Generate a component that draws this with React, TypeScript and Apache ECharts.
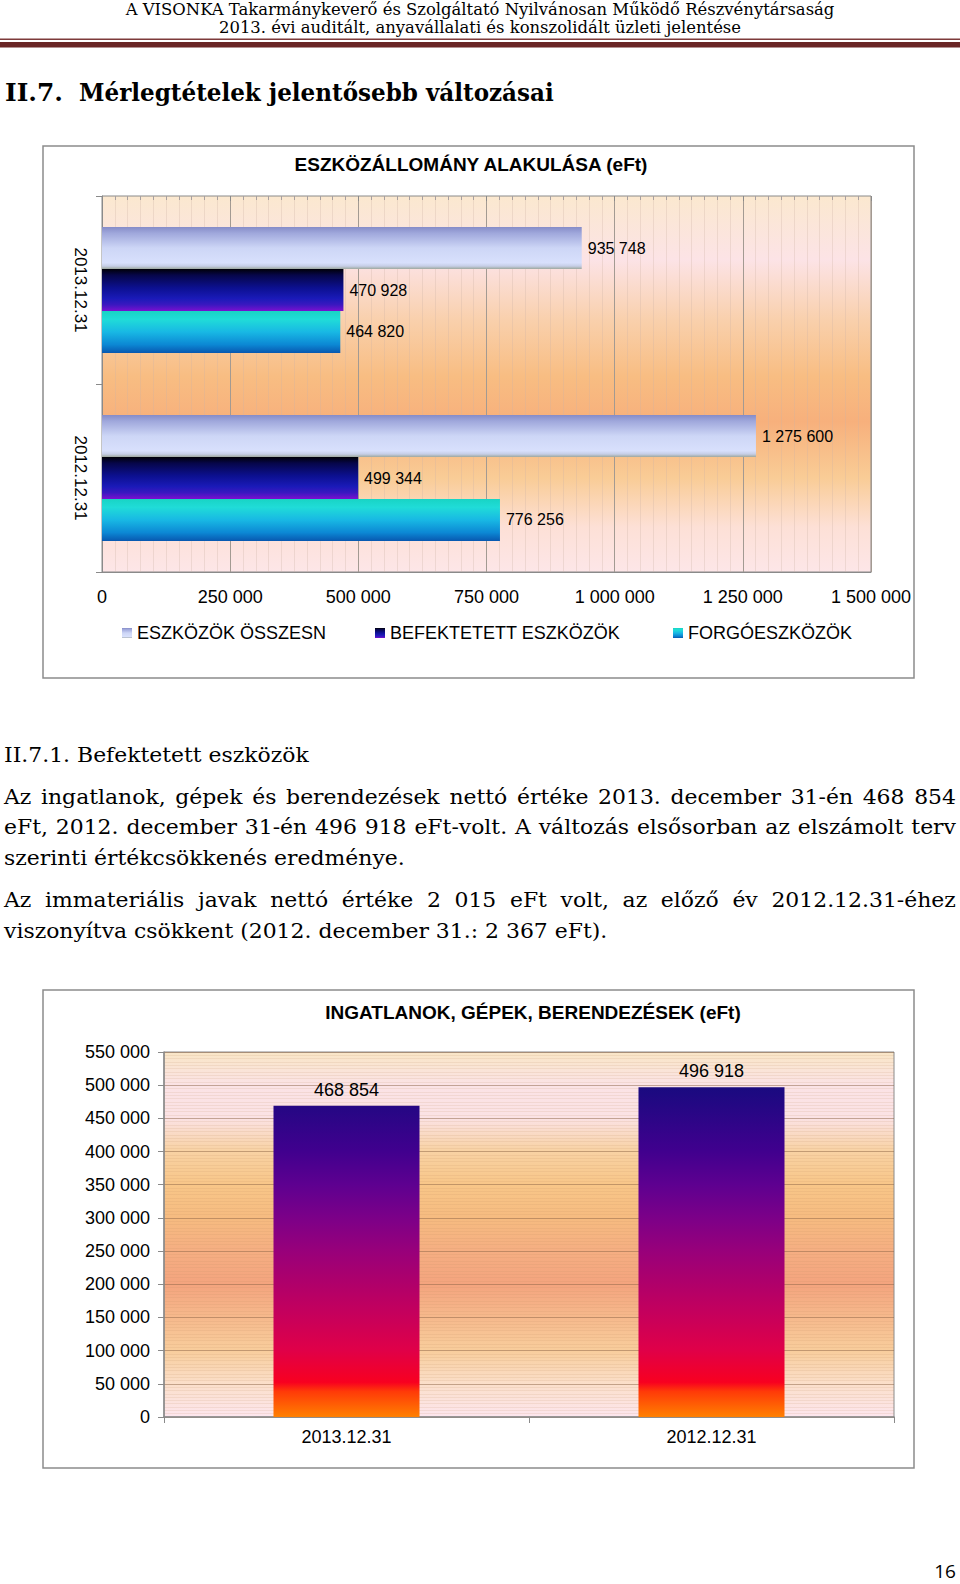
import React, { useEffect, useRef } from 'react';
import * as echarts from 'echarts';

// ---------- DATA ----------
const hCategories = ['2012.12.31', '2013.12.31'];
const seriesNames = ['ESZKÖZÖK ÖSSZESN', 'BEFEKTETETT ESZKÖZÖK', 'FORGÓESZKÖZÖK'];
const totalAssets = [1275600, 935748];
const investedAssets = [499344, 470928];
const currentAssets = [776256, 464820];

const vCategories = ['2013.12.31', '2012.12.31'];
const ppeValues = [468854, 496918];

const chart1Title = 'ESZKÖZÁLLOMÁNY ALAKULÁSA (eFt)';
const chart2Title = 'INGATLANOK, GÉPEK, BERENDEZÉSEK (eFt)';

const headerLines = [
  'A VISONKA Takarmánykeverő és Szolgáltató Nyilvánosan Működő Részvénytársaság',
  '2013. évi auditált, anyavállalati és konszolidált üzleti jelentése',
];
const pageTitleNum = 'II.7.';
const pageTitleText = 'Mérlegtételek jelentősebb változásai';
const sectionTitle = 'II.7.1. Befektetett eszközök';
const para1 = [
  'Az ingatlanok, gépek és berendezések nettó értéke 2013. december 31-én 468 854',
  'eFt, 2012. december 31-én 496 918 eFt-volt. A változás elsősorban az elszámolt terv',
  'szerinti értékcsökkenés eredménye.',
];
const para2 = [
  'Az immateriális javak nettó értéke 2 015 eFt volt, az előző év 2012.12.31-éhez',
  'viszonyítva csökkent (2012. december 31.: 2 367 eFt).',
];
const pageNumber = '16';

// ---------- HELPERS ----------
const SERIF = '"DejaVu Serif", serif';
const SANS = '"Liberation Sans", Arial, sans-serif';
const fmt = (v: number) => String(Math.round(v)).replace(/\B(?=(\d{3})+(?!\d))/g, ' ');

let measureCtx: CanvasRenderingContext2D | null = null;
function measure(text: string, font: string): number {
  if (!measureCtx) measureCtx = document.createElement('canvas').getContext('2d');
  measureCtx!.font = font;
  return measureCtx!.measureText(text).width;
}

function txt(text: string, x: number, y: number, font: string, scaleX = 1, align = 'left', fill = '#000') {
  return {
    type: 'text',
    x,
    y,
    scaleX,
    style: {
      text,
      font,
      fill,
      align,
      verticalAlign: 'middle',
      textAlign: align,
      textVerticalAlign: 'middle',
    },
  };
}

function justified(text: string, x0: number, y: number, font: string, scale: number, width: number) {
  const words = text.split(' ');
  const widths = words.map((w) => measure(w, font));
  const sum = widths.reduce((a, b) => a + b, 0);
  let s = scale;
  const minGap = measure(' ', font) * s * 0.8;
  let gap = (width - sum * s) / (words.length - 1);
  if (gap < minGap) {
    s = (width - minGap * (words.length - 1)) / sum;
    gap = minGap;
  }
  const els: any[] = [];
  let x = x0;
  words.forEach((w, i) => {
    els.push(txt(w, x, y, font, s));
    x += widths[i] * s + gap;
  });
  return els;
}

function buildGraphics() {
  const els: any[] = [];
  // header
  const hFont = `16px ${SERIF}`;
  const hScale = 709 / measure(headerLines[0], hFont);
  els.push(txt(headerLines[0], 480, 10, hFont, hScale, 'center'));
  els.push(txt(headerLines[1], 480, 28, hFont, hScale, 'center'));
  // rule
  els.push({ type: 'rect', shape: { x: 0, y: 38.5, width: 960, height: 1.6 }, style: { fill: '#7d3a3a' } });
  els.push({ type: 'rect', shape: { x: 0, y: 42, width: 960, height: 5.5 }, style: { fill: '#6a2626' } });
  // page title
  const tFont = `bold 24px ${SERIF}`;
  els.push(txt(pageTitleNum, 5, 93, tFont, 58 / measure(pageTitleNum, tFont)));
  els.push(txt(pageTitleText, 79, 93, tFont, 475 / measure(pageTitleText, tFont)));

  // chart boxes
  const boxStyle = { fill: 'rgba(0,0,0,0)', stroke: '#8c8c8c', lineWidth: 1.5 };
  els.push({ type: 'rect', z: -10, shape: { x: 43, y: 146, width: 871, height: 532 }, style: boxStyle });
  els.push({ type: 'rect', z: -10, shape: { x: 43, y: 990, width: 871, height: 478 }, style: boxStyle });

  // chart titles
  const ctFont = `bold 19px ${SANS}`;
  els.push(txt(chart1Title, 471, 164, ctFont, 1, 'center'));
  els.push(txt(chart2Title, 533, 1012, ctFont, 1, 'center'));

  // body text
  const bFont = `21px ${SERIF}`;
  const bScale = (399 / measure(para1[2], bFont) + 607 / measure(para2[1], bFont)) / 2;
  els.push(txt(sectionTitle, 4, 755, bFont, bScale));
  els.push(...justified(para1[0], 4, 797, bFont, bScale, 952));
  els.push(...justified(para1[1], 4, 827, bFont, bScale, 952));
  els.push(txt(para1[2], 4, 858, bFont, bScale));
  els.push(...justified(para2[0], 4, 900, bFont, bScale, 952));
  els.push(txt(para2[1], 4, 931, bFont, bScale));

  // page number
  els.push(txt(pageNumber, 945, 1571, `19px "Open Sans", sans-serif`, 1, 'center'));
  return els;
}

export default function App() {
  const ref = useRef<HTMLDivElement>(null);
  useEffect(() => {
    if (!ref.current) return;
    const chart = echarts.init(ref.current, undefined, { renderer: 'svg' });
    const G = echarts.graphic.LinearGradient;

    const bg1 = new G(0, 0, 0, 1, [
      { offset: 0, color: '#fbe8cf' },
      { offset: 0.17, color: '#fce3e6' },
      { offset: 0.33, color: '#f9d0ac' },
      { offset: 0.48, color: '#f8bd82' },
      { offset: 0.6, color: '#f7b07c' },
      { offset: 0.75, color: '#f9cc96' },
      { offset: 0.88, color: '#fde0d6' },
      { offset: 1, color: '#fde6e8' },
    ]);
    const bg2 = new G(0, 0, 0, 1, [
      { offset: 0, color: '#f9e6c6' },
      { offset: 0.09, color: '#fbe3e6' },
      { offset: 0.18, color: '#fbe2e4' },
      { offset: 0.27, color: '#f8d2a4' },
      { offset: 0.364, color: '#f8c688' },
      { offset: 0.455, color: '#f6bb80' },
      { offset: 0.545, color: '#f5ae82' },
      { offset: 0.636, color: '#f4a47e' },
      { offset: 0.727, color: '#f6b98c' },
      { offset: 0.818, color: '#f8cd9c' },
      { offset: 0.909, color: '#fbdfca' },
      { offset: 1, color: '#fde6ee' },
    ]);
    const gradTotal = new G(0, 0, 0, 1, [
      { offset: 0, color: '#868cc8' },
      { offset: 0.15, color: '#a0a8dc' },
      { offset: 0.5, color: '#cdd6f6' },
      { offset: 0.85, color: '#d8e0fc' },
      { offset: 0.93, color: '#c6cee6' },
      { offset: 1, color: '#9ea89e' },
    ]);
    const gradInvested = new G(0, 0, 0, 1, [
      { offset: 0, color: '#000008' },
      { offset: 0.15, color: '#06064a' },
      { offset: 0.45, color: '#0c1090' },
      { offset: 0.7, color: '#1a1ab8' },
      { offset: 0.85, color: '#3a18c0' },
      { offset: 1, color: '#7a10d0' },
    ]);
    const gradCurrent = new G(0, 0, 0, 1, [
      { offset: 0, color: '#18d4c4' },
      { offset: 0.2, color: '#20dcd8' },
      { offset: 0.5, color: '#18b8e4' },
      { offset: 0.8, color: '#0c88d4' },
      { offset: 1, color: '#0858b0' },
    ]);
    const gradFire = new G(0, 1052, 0, 1417, [
      { offset: 0, color: '#140a7c' },
      { offset: 0.1, color: '#1a0a80' },
      { offset: 0.27, color: '#40008e' },
      { offset: 0.364, color: '#5e0090' },
      { offset: 0.455, color: '#7c0088' },
      { offset: 0.545, color: '#98007a' },
      { offset: 0.636, color: '#b0006a' },
      { offset: 0.727, color: '#c8005a' },
      { offset: 0.818, color: '#e00048' },
      { offset: 0.905, color: '#f80020' },
      { offset: 0.93, color: '#ff3a08' },
      { offset: 1, color: '#ff8000' },
    ], true);

    const axisGray = '#8a8a8a';
    const hSeries = [
      { name: seriesNames[0], data: totalAssets, color: gradTotal },
      { name: seriesNames[1], data: investedAssets, color: gradInvested },
      { name: seriesNames[2], data: currentAssets, color: gradCurrent },
    ];

    const legendBase = {
      orient: 'horizontal',
      top: 624,
      padding: 0,
      itemWidth: 10,
      itemHeight: 10,
      icon: 'rect',
      textStyle: { fontSize: 18, color: '#000', fontFamily: SANS },
    };

    chart.setOption({
      animation: false,
      backgroundColor: '#fff',
      textStyle: { fontFamily: SANS },
      grid: [
        { left: 102, top: 196, width: 769, height: 376, show: true, backgroundColor: bg1, borderColor: axisGray, borderWidth: 1 },
        { left: 164, top: 1052, width: 730, height: 365, show: true, backgroundColor: bg2, borderColor: axisGray, borderWidth: 1 },
      ],
      legend: [
        { ...legendBase, left: 122, data: [seriesNames[0]] },
        { ...legendBase, left: 375, data: [seriesNames[1]] },
        { ...legendBase, left: 673, data: [seriesNames[2]] },
      ],
      xAxis: [
        {
          type: 'value', gridIndex: 0, position: 'bottom', min: 0, max: 1500000, interval: 250000,
          axisLine: { show: true, lineStyle: { color: axisGray } },
          axisTick: { show: false },
          axisLabel: { fontSize: 18, color: '#000', margin: 16, formatter: fmt, fontFamily: SANS },
          splitLine: { show: true, lineStyle: { color: '#a39a92', width: 1 } },
          minorTick: { show: false, splitNumber: 10 },
          minorSplitLine: { show: true, lineStyle: { color: 'rgba(205,180,165,0.3)', width: 1 } },
        },
        {
          type: 'value', gridIndex: 0, position: 'top', min: 0, max: 1500000, interval: 250000,
          axisLine: { show: false },
          axisTick: { show: true, inside: true, length: 5, lineStyle: { color: axisGray } },
          minorTick: { show: true, splitNumber: 10, length: 4, lineStyle: { color: '#a8a0a0' } },
          axisLabel: { show: false },
          splitLine: { show: false },
        },
        {
          type: 'category', gridIndex: 1, data: vCategories,
          axisLine: { show: true, lineStyle: { color: axisGray, width: 1.5 } },
          axisTick: { show: true, length: 6, alignWithLabel: false, lineStyle: { color: axisGray } },
          axisLabel: { fontSize: 18, color: '#000', margin: 11, fontFamily: SANS },
          splitLine: { show: false },
        },
      ],
      yAxis: [
        {
          type: 'category', gridIndex: 0, data: hCategories,
          axisLine: { show: true, lineStyle: { color: axisGray } },
          axisTick: { show: true, length: 6, lineStyle: { color: axisGray } },
          axisLabel: { rotate: -90, fontSize: 17, color: '#000', margin: 13, fontFamily: SANS },
          splitLine: { show: false },
        },
        {
          type: 'value', gridIndex: 1, min: 0, max: 550000, interval: 50000,
          axisLine: { show: true, lineStyle: { color: axisGray, width: 1.5 } },
          axisTick: { show: true, length: 6, lineStyle: { color: axisGray } },
          axisLabel: { fontSize: 18, color: '#000', margin: 14, formatter: fmt, fontFamily: SANS },
          splitLine: { show: true, lineStyle: { color: 'rgba(140,100,70,0.5)', width: 1.2 } },
          minorTick: { show: false, splitNumber: 10 },
          minorSplitLine: { show: true, lineStyle: { color: 'rgba(190,140,100,0.14)', width: 1 } },
        },
      ],
      series: [
        ...hSeries.map((s) => ({
          type: 'bar',
          name: s.name,
          xAxisIndex: 0,
          yAxisIndex: 0,
          data: s.data,
          barCategoryGap: '33%',
          barGap: '0%',
          itemStyle: { color: s.color },
          label: { show: true, position: 'right', distance: 6, fontSize: 16, color: '#000', formatter: (p: any) => fmt(p.value), fontFamily: SANS },
        })),
        {
          type: 'bar',
          name: 'INGATLANOK',
          xAxisIndex: 2,
          yAxisIndex: 1,
          data: ppeValues,
          barWidth: 146,
          itemStyle: { color: gradFire },
          label: { show: true, position: 'top', distance: 7, fontSize: 18, color: '#000', formatter: (p: any) => fmt(p.value), fontFamily: SANS },
        },
      ],
      graphic: buildGraphics(),
    });
    return () => chart.dispose();
  }, []);
  return <div ref={ref} style={{ position: 'absolute', left: 0, top: 0, width: 960, height: 1584 }} />;
}
